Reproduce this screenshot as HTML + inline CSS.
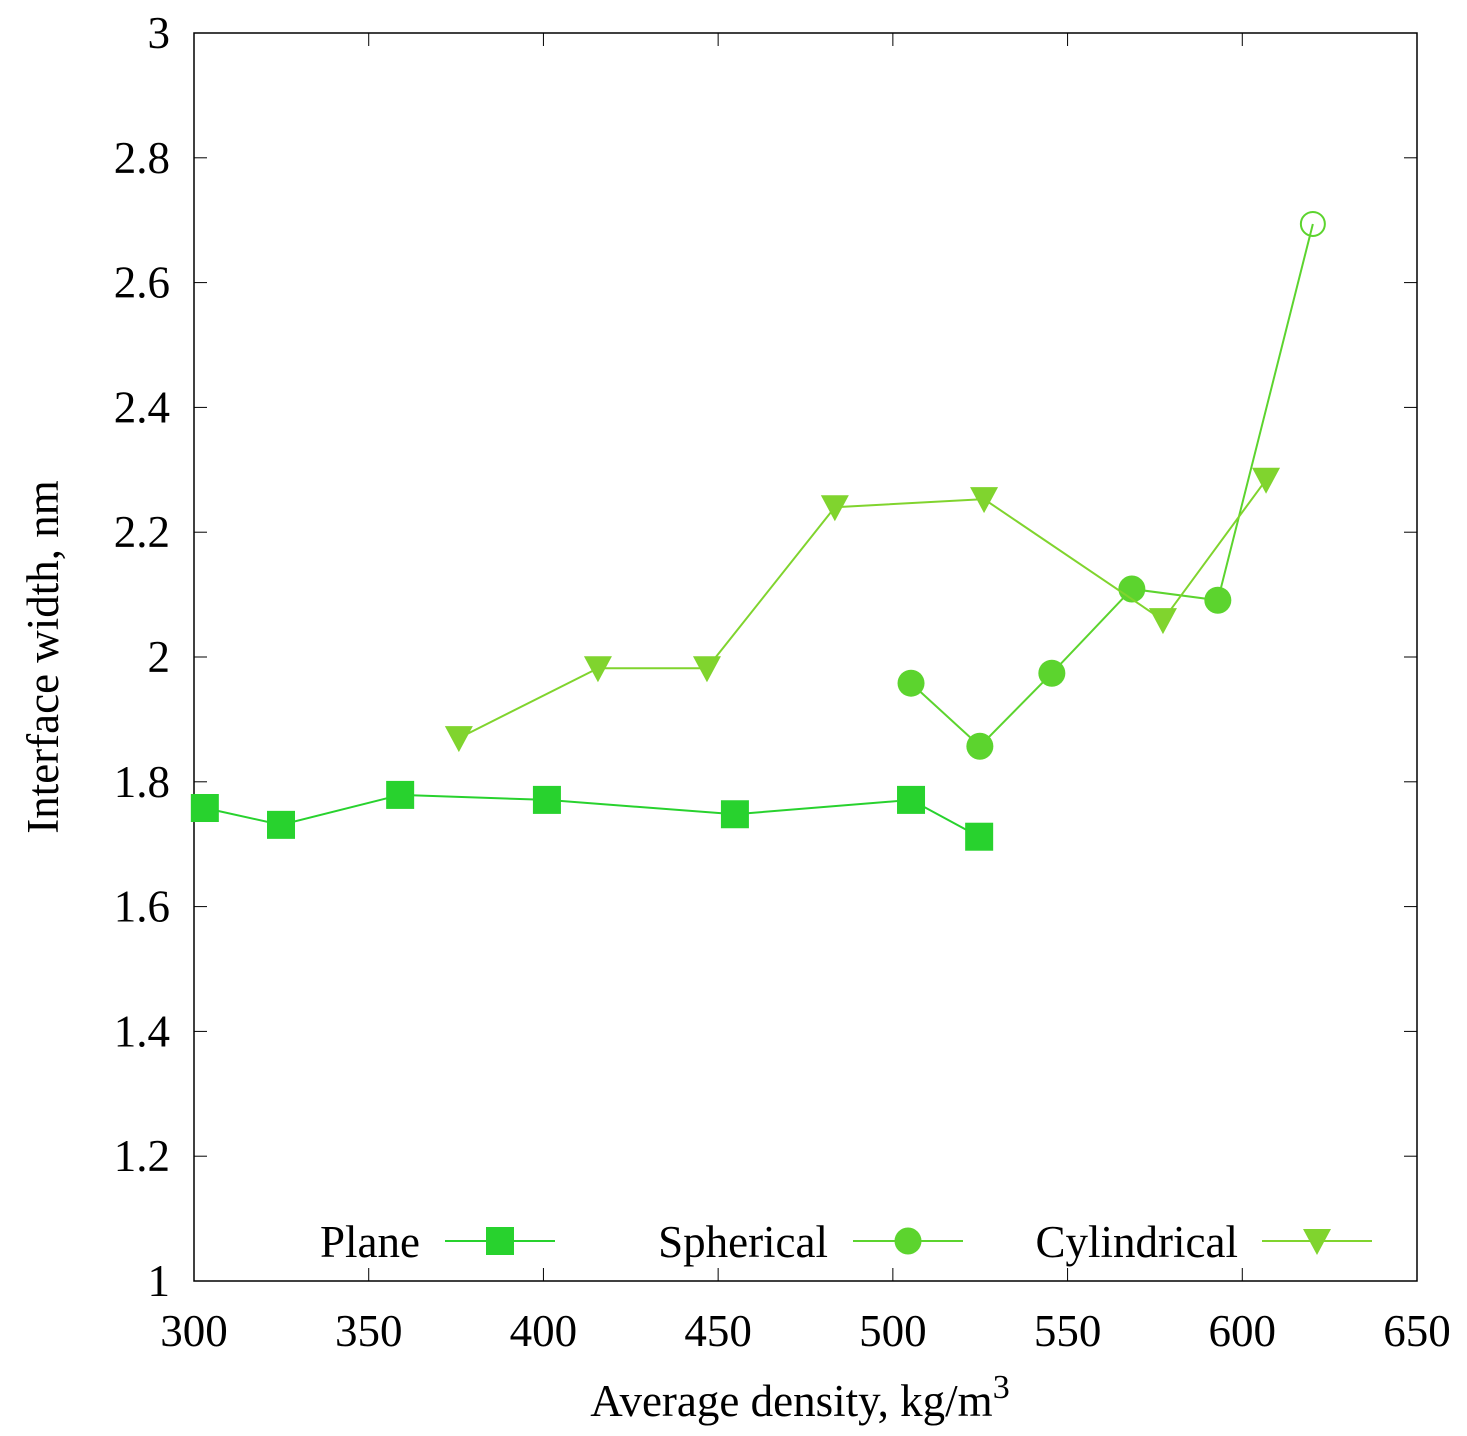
<!DOCTYPE html>
<html><head><meta charset="utf-8">
<style>
html,body{margin:0;padding:0;background:#fff;}
svg text{font-family:"Liberation Serif",serif;font-size:45px;fill:#000;}
</style></head>
<body>
<svg id="chart" width="1467" height="1431" xmlns="http://www.w3.org/2000/svg">
<rect x="194" y="33" width="1223" height="1248" fill="none" stroke="#000" stroke-width="1.5"/>
<g id="ticks"></g>
<g id="series"></g>
<text x="800" y="1416" text-anchor="middle">Average density, kg/m<tspan dy="-18" font-size="34">3</tspan></text>
<text transform="translate(58,657) rotate(-90)" text-anchor="middle">Interface width, nm</text>
<g id="legend"></g>
</svg>
<script>
const xTicks=[300,350,400,450,500,550,600,650];
const yTicks=[1,1.2,1.4,1.6,1.8,2,2.2,2.4,2.6,2.8,3];
const yTickLabels=["1","1.2","1.4","1.6","1.8","2","2.2","2.4","2.6","2.8","3"];
const planeX=[303.1,324.9,359,401,454.8,505.2,524.7];
const planeY=[1.758,1.731,1.779,1.771,1.748,1.771,1.712];
const sphX=[505.2,524.9,545.5,568.4,593,620.2];
const sphY=[1.958,1.857,1.974,2.109,2.091,2.694];
const cylX=[375.8,415.6,446.8,483.4,526.1,577.3,606.8];
const cylY=[1.870,1.982,1.982,2.240,2.253,2.059,2.284];

const NS="http://www.w3.org/2000/svg";
const X=v=>194+(v-300)/350*1223;
const Y=v=>1281-(v-1)/2*1248;
function mk(tag,attrs,parent){const e=document.createElementNS(NS,tag);for(const k in attrs)e.setAttribute(k,attrs[k]);parent.appendChild(e);return e;}
const tg=document.getElementById('ticks');
xTicks.forEach(t=>{
  const l1=mk('line',{x1:X(t),x2:X(t),y1:1281,y2:1268,stroke:'#000','stroke-width':1},tg);
  
  
  const l2=mk('line',{x1:X(t),x2:X(t),y1:33,y2:46,stroke:'#000','stroke-width':1},tg);
  
  
  const tx=mk('text',{x:X(t),y:1346,'text-anchor':'middle'},tg);tx.textContent=t;
  
  
});
yTicks.forEach((t,i)=>{
  const l1=mk('line',{x1:194,x2:207,y1:Y(t),y2:Y(t),stroke:'#000','stroke-width':1},tg);
  
  
  const l2=mk('line',{x1:1404,x2:1417,y1:Y(t),y2:Y(t),stroke:'#000','stroke-width':1},tg);
  
  
  const tx=mk('text',{x:170,y:Y(t)+15,'text-anchor':'end'},tg);tx.textContent=yTickLabels[i];
  
  
});
function marker(type,cx,cy,col,parent,open){
  let e;
  if(type==='sq') e=mk('rect',{x:cx-14,y:cy-14,width:28,height:28,fill:col},parent);
  else if(type==='ci') e=open?mk('circle',{cx:cx,cy:cy,r:12,fill:'none',stroke:col,'stroke-width':2},parent):mk('circle',{cx:cx,cy:cy,r:13.5,fill:col},parent);
  else e=mk('polygon',{points:`${cx-14},${cy-12} ${cx+14},${cy-12} ${cx},${cy+14}`,fill:col},parent);
  return e;
}
const sg=document.getElementById('series');
function series(name,xs,ys,type,col){
  const g=mk('g',{},sg);
  
  
  const pl=mk('polyline',{points:xs.map((x,i)=>X(x)+','+Y(ys[i])).join(' '),fill:'none',stroke:col,'stroke-width':2},g);
  
  
  xs.forEach((x,i)=>{
    const open=(name==='spherical'&&i===xs.length-1);
    const m=marker(type,X(x),Y(ys[i]),col,g,open);
    
    
  });
}
series('plane',planeX,planeY,'sq','#28d22e');
series('spherical',sphX,sphY,'ci','#5cd42e');
series('cylindrical',cylX,cylY,'tri','#80d42e');
const lg=document.getElementById('legend');
const legItems=[['Plane',420,445,555,'sq','#28d22e'],['Spherical',828,853,963,'ci','#5cd42e'],['Cylindrical',1238,1262,1372,'tri','#80d42e']];
legItems.forEach(it=>{
  const g=mk('g',{},lg);
  
  
  const t=mk('text',{x:it[1],y:1257,'text-anchor':'end'},g);t.textContent=it[0];
  mk('line',{x1:it[2],x2:it[3],y1:1241,y2:1241,stroke:it[5],'stroke-width':2},g);
  marker(it[4],(it[2]+it[3])/2,1241,it[5],g,false);
});
</script>
</body></html>
